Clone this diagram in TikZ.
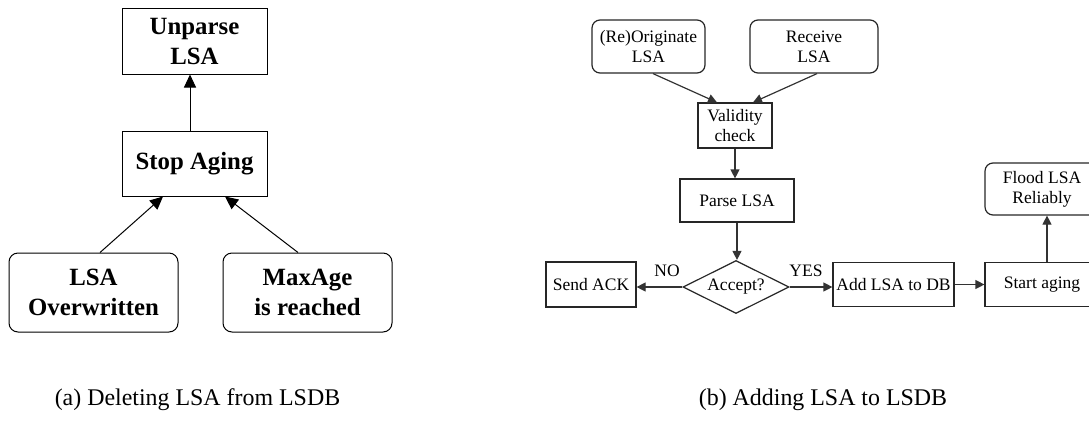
\documentclass[tikz,border=0pt]{standalone}
\usepackage{fontspec}
\setmainfont{Liberation Serif}
\usetikzlibrary{shapes.geometric,arrows.meta,calc}
\begin{document}
\begin{tikzpicture}[x=1pt,y=-1pt,
  bigbox/.style={draw=black, line width=1pt, align=center, inner sep=0pt,
    font=\fontsize{24.8}{30}\selectfont\bfseries},
  biground/.style={bigbox, rounded corners=9pt},
  bigarrow/.style={draw=black, line width=1pt, -{Triangle[length=13pt,width=12pt]}},
  smallbox/.style={draw=black!85, line width=1.2pt, align=center, inner sep=0pt,
    font=\fontsize{17.5}{20}\selectfont},
  smallround/.style={smallbox, rounded corners=8pt},
  smallarrow/.style={draw=black!80, line width=1.2pt, -{Triangle[length=9pt,width=9pt]}},
  lbl/.style={font=\fontsize{17.5}{20}\selectfont, inner sep=0pt},
  caption/.style={font=\fontsize{23.9}{28}\selectfont, inner sep=0pt, anchor=base}]
\useasboundingbox (0,0) rectangle (1089,421);
\clip (0,0) rectangle (1089,421);

% (a) deleting an LSA
\node[bigbox, minimum width=145pt, minimum height=66pt] (unparse) at (194.5,41) {Unparse\\LSA};
\node[bigbox, minimum width=145pt, minimum height=65pt] (stop) at (194.5,163.5) {Stop Aging};
\node[biground, minimum width=169pt, minimum height=79pt] (over) at (93.5,292.5) {LSA\\Overwritten};
\node[biground, minimum width=169pt, minimum height=79pt] (maxage) at (307.5,292.5) {MaxAge\\is reached};

\draw[bigarrow] ($(stop.north)+(-4.5,0)$) -- ($(unparse.south)+(-4.5,0)$);
\draw[bigarrow] ($(over.north)+(6.5,0)$) -- ($(stop.south)+(-31.5,0)$);
\draw[bigarrow] ($(maxage.north)+(-9.5,0)$) -- ($(stop.south)+(30.5,0)$);

% (b) adding an LSA
\node[smallround, minimum width=113pt, minimum height=53pt] (orig) at (648.5,46.5) {(Re)Originate\\LSA};
\node[smallround, minimum width=128pt, minimum height=53pt] (recv) at (814,46.5) {Receive\\LSA};
\node[smallbox, minimum width=74pt, minimum height=45pt] (valid) at (735,125.5) {Validity\\check};
\node[smallbox, minimum width=114pt, minimum height=43pt] (parse) at (737,200.5) {Parse LSA};
\node[smallbox, diamond, aspect=2, minimum width=106pt, minimum height=53pt] (accept) at (736,287) {Accept?};
\node[smallbox, minimum width=90pt, minimum height=45pt] (sendack) at (591,284.5) {Send ACK};
\node[smallbox, minimum width=121pt, minimum height=44pt] (add) at (893.5,284.5) {Add LSA to DB};
\node[smallbox, minimum width=114pt, minimum height=44pt] (start) at (1042,284.5) {Start aging};
\node[smallround, minimum width=114pt, minimum height=52pt] (flood) at (1042,189) {Flood LSA\\Reliably};

\draw[smallarrow] ($(orig.south)+(4.5,0)$) -- ($(valid.north)+(-18,0)$);
\draw[smallarrow] ($(recv.south)+(3,0)$) -- ($(valid.north)+(18,0)$);
\draw[smallarrow] (valid.south) -- (valid.south |- parse.north);
\draw[smallarrow] (parse.south) -- (parse.south |- accept.north);
\draw[smallarrow] (accept.west) -- (accept.west -| sendack.east);
\draw[smallarrow] (accept.east) -- (accept.east -| add.west);
\draw[smallarrow] (add.east) -- (start.west);
\draw[smallarrow] ($(start.north)+(5,0)$) -- ($(flood.south)+(5,0)$);

\node[lbl] (no) at (667,271) {NO};
\node[lbl] (yes) at (806,271) {YES};

% sub-figure captions
\node[caption] (capa) at (197.5,405) {(a) Deleting LSA from LSDB};
\node[caption] (capb) at (823,405) {(b) Adding LSA to LSDB};
\end{tikzpicture}
\end{document}
